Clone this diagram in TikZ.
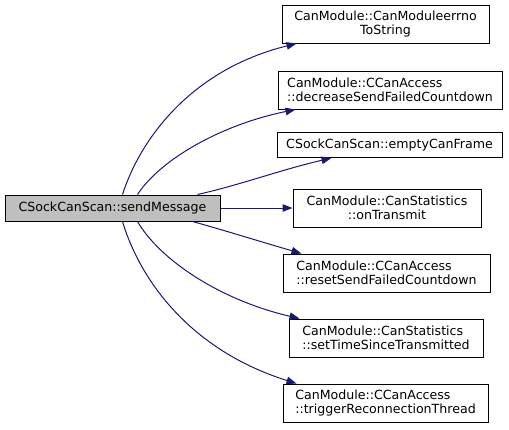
\documentclass[tikz,border=0pt]{standalone}
\usepackage{fontspec}
\setmainfont{DejaVu Sans}
\usetikzlibrary{arrows.meta}
\definecolor{edgeblue}{HTML}{191970}
\definecolor{srcgray}{HTML}{BFBFBF}
\begin{document}
\begin{tikzpicture}[x=1pt,y=-1pt,
  box/.style={draw=black, line width=1pt, fill=white, inner sep=0pt, anchor=center,
    font=\fontsize{12.6}{14.5}\selectfont},
  edge/.style={draw=edgeblue, line width=1pt, -{Triangle[length=10pt,width=7.5pt]}}]
\useasboundingbox (0,0) rectangle (509,429);
\node[box, fill=srcgray, minimum width=215, minimum height=26] (src) at (112.5,208) {CSockCanScan::sendMessage};
\node[box, minimum width=207, minimum height=38, align=center] (b1) at (385.5,24) {CanModule::CanModuleerrno\\ToString};
\node[box, minimum width=224, minimum height=38, align=left] (b2) at (390,90) {CanModule::CCanAccess\\::decreaseSendFailedCountdown};
\node[box, minimum width=225, minimum height=25] (b3) at (389.5,145) {CSockCanScan::emptyCanFrame};
\node[box, minimum width=188, minimum height=38, align=center] (b4) at (387,208) {CanModule::CanStatistics\\::onTransmit};
\node[box, minimum width=207, minimum height=38, align=left] (b5) at (386.5,273) {CanModule::CCanAccess\\::resetSendFailedCountdown};
\node[box, minimum width=194, minimum height=38, align=left] (b6) at (386,338) {CanModule::CanStatistics\\::setTimeSinceTransmitted};
\node[box, minimum width=205, minimum height=38, align=left] (b7) at (385.5,403) {CanModule::CCanAccess\\::triggerReconnectionThread};
\draw[edge] ([xshift=10]src.north) .. controls (140,140) and (190,70) .. ([xshift=15]b1.south west);
\draw[edge] ([xshift=25]src.north) .. controls (160,160) and (220,125) .. ([xshift=18]b2.south west);
\draw[edge] ([xshift=85]src.north) .. controls (240,185) and (280,170) .. ([xshift=55]b3.south west);
\draw[edge] (src.east) -- (b4.west);
\draw[edge] ([xshift=80]src.south) .. controls (230,232) and (265,243) .. ([xshift=19]b5.north west);
\draw[edge] ([xshift=25]src.south) .. controls (160,260) and (220,300) .. ([xshift=11]b6.north west);
\draw[edge] ([xshift=10]src.south) .. controls (140,280) and (190,350) .. ([xshift=14]b7.north west);
\end{tikzpicture}
\end{document}
